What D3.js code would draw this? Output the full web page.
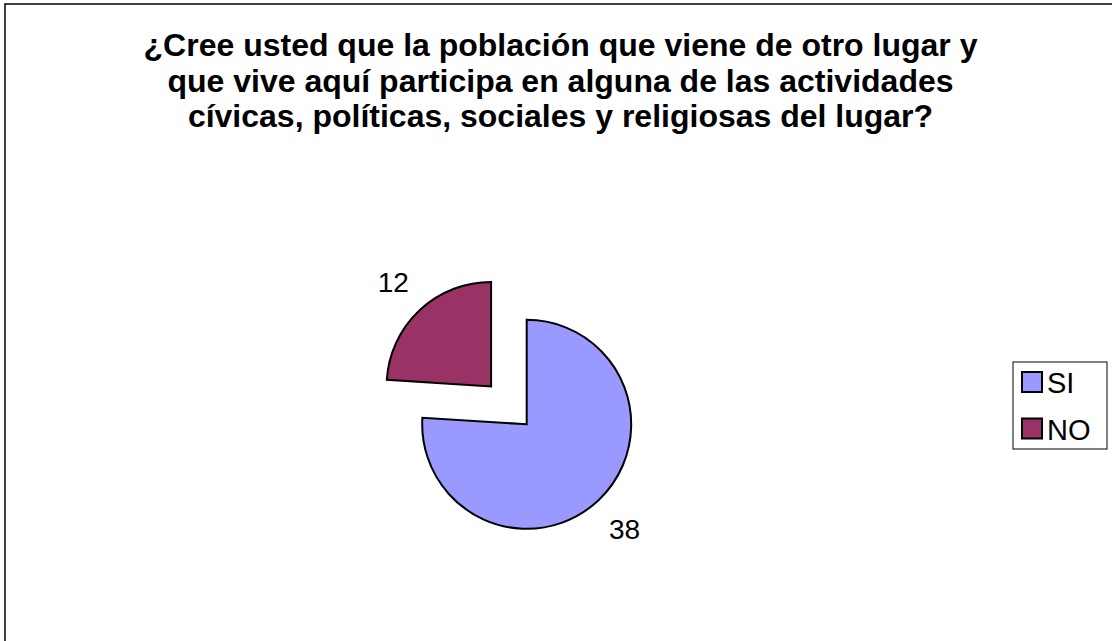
<!DOCTYPE html>
<html>
<head>
<meta charset="utf-8">
<script src="https://cdn.jsdelivr.net/npm/d3@7"></script>
<style>
  html, body { margin: 0; padding: 0; background: #fff; }
  svg { display: block; }
  text { font-family: "Liberation Sans", Arial, sans-serif; }
</style>
</head>
<body>
<svg id="chart" width="1112" height="641"></svg>
<script>
const titleLines = [
  "¿Cree usted que la población que viene de otro lugar y",
  "que vive aquí participa en alguna de las actividades",
  "cívicas, políticas, sociales y religiosas del lugar?"
];
const categories = ["SI", "NO"];
const values = [38, 12];
const colors = ["#9999FF", "#993366"];
const exploded = [0, 52];

const svg = d3.select("#chart");

// chart area border (extends beyond right/bottom of window)
svg.append("rect")
  .attr("x", 5).attr("y", 4)
  .attr("width", 1200).attr("height", 800)
  .attr("fill", "#fff")
  .attr("stroke", "#000").attr("stroke-width", 1.5);

// title
svg.append("g").selectAll("text")
  .data(titleLines)
  .join("text")
  .attr("x", 560.5)
  .attr("y", (d, i) => 56 + i * 35.5)
  .attr("text-anchor", "middle")
  .attr("font-weight", "bold")
  .attr("font-size", 32)
  .attr("fill", "#000")
  .text(d => d);

// pie
const data = categories.map((c, i) => ({ cat: c, value: values[i], color: colors[i], explode: exploded[i] }));
const pie = d3.pie().sort(null).value(d => d.value).startAngle(0).endAngle(2 * Math.PI);
const arcs = pie(data);
const r = 104.5;
const arc = d3.arc().innerRadius(0).outerRadius(r);
const labelArc = d3.arc().innerRadius(143).outerRadius(143);
const cx = 526.7, cy = 424.3;

const g = svg.append("g").attr("transform", `translate(${cx},${cy})`);
const slices = g.selectAll("g.slice")
  .data(arcs)
  .join("g")
  .attr("class", "slice")
  .attr("transform", d => {
    const mid = (d.startAngle + d.endAngle) / 2;
    const e = d.data.explode;
    return `translate(${e * Math.sin(mid)},${-e * Math.cos(mid)})`;
  });

slices.append("path")
  .attr("d", arc)
  .attr("fill", d => d.data.color)
  .attr("stroke", "#000")
  .attr("stroke-width", 2)
  .attr("stroke-linejoin", "miter");

slices.append("text")
  .attr("x", d => labelArc.centroid(d)[0])
  .attr("y", d => labelArc.centroid(d)[1] + 10)
  .attr("text-anchor", "middle")
  .attr("font-size", 28)
  .attr("fill", "#000")
  .text(d => d.data.value);

// legend
const legend = svg.append("g");
legend.append("rect")
  .attr("x", 1013).attr("y", 362)
  .attr("width", 94).attr("height", 87)
  .attr("fill", "#fff")
  .attr("stroke", "#000").attr("stroke-width", 1);

const items = legend.selectAll("g.item")
  .data(data)
  .join("g")
  .attr("class", "item")
  .attr("transform", (d, i) => `translate(1022,${372 + i * 46.5})`);

items.append("rect")
  .attr("x", 0).attr("y", 0)
  .attr("width", 20).attr("height", 20)
  .attr("fill", d => d.color)
  .attr("stroke", "#000").attr("stroke-width", 2);

items.append("text")
  .attr("x", 25).attr("y", 21)
  .attr("font-size", 29)
  .attr("fill", "#000")
  .text(d => d.cat);
</script>
</body>
</html>
